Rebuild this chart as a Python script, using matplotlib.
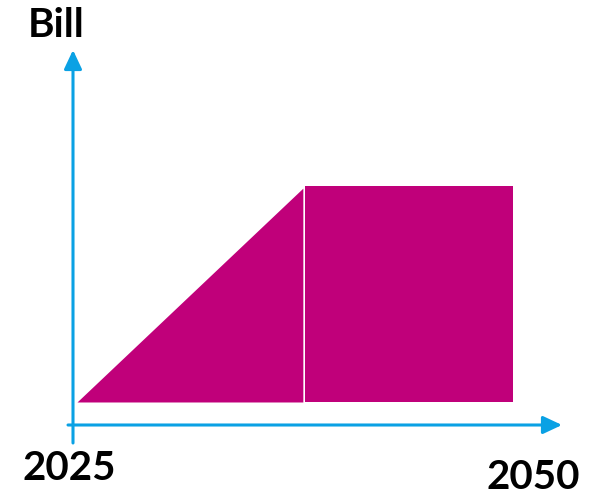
import numpy as np
import matplotlib
matplotlib.use("Agg")
import matplotlib.pyplot as plt
from matplotlib.patches import FancyArrowPatch

# data
ramp_years = [2025, 2037.95]
ramp_bill = [0, 0.99]
flat_years = [2038.05, 2050]
flat_bill = [1.0, 1.0]
y_label = "Bill"
x_labels = ["2025", "2050"]

magenta = "#c0007a"
blue = "#0aa1e4"

fig = plt.figure(figsize=(6.08, 4.95), dpi=100)
ax = fig.add_axes([0, 0, 1, 1])
ax.set_xlim(2020.585, 2055.447)
ax.set_ylim(-0.4306, 1.861)
ax.axis("off")

# rising part
ax.fill_between(ramp_years, 0, ramp_bill, color=magenta, linewidth=0)
# constant part
ax.fill_between(flat_years, 0, flat_bill, color=magenta, linewidth=0)

# axis arrows (figure pixels)
for start, end in [((73, 52), (73, 445)), ((68, 70), (562, 70))]:
    arr = FancyArrowPatch(start, end, transform=None,
                          arrowstyle="-|>,head_length=11.5,head_width=5.4",
                          color=blue, linewidth=2.2, shrinkA=0, shrinkB=0)
    fig.patches.append(arr)

font = dict(family=["Lato", "DejaVu Sans"], fontweight="bold", color="black")
fig.text(28 / 608, 1 - 7 / 495, y_label, fontsize=29, ha="left", va="top", **font)
fig.text(23 / 608, 1 - 450 / 495, x_labels[0], fontsize=29, ha="left", va="top", **font)
fig.text(487 / 608, 1 - 459 / 495, x_labels[1], fontsize=29, ha="left", va="top", **font)

fig.savefig("out.png", dpi=100)
